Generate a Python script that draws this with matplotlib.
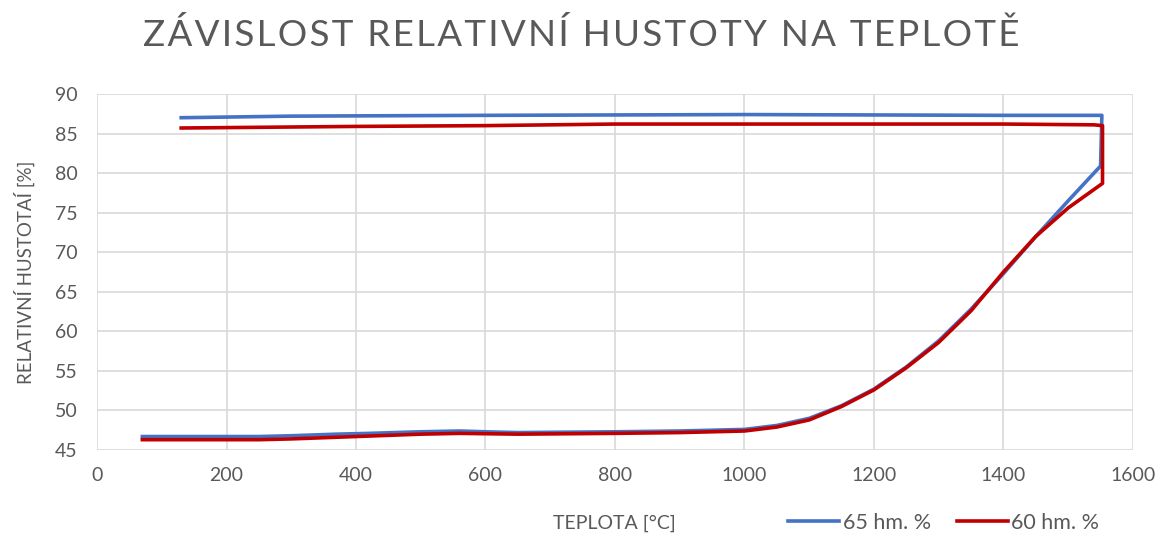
import matplotlib.pyplot as plt

plt.rcParams['font.family'] = ['Lato', 'DejaVu Sans']

# 65 hm. % - heating branch then cooling branch
t65 = [70, 150, 250, 300, 370, 420, 500, 560, 600, 650, 800, 900, 1000, 1050, 1100,
       1150, 1200, 1250, 1300, 1350, 1400, 1450, 1500, 1550, 1552,
       1400, 1000, 600, 300, 130]
r65 = [46.7, 46.7, 46.7, 46.8, 47.0, 47.1, 47.3, 47.4, 47.3, 47.2, 47.3, 47.4, 47.6, 48.1, 49.0,
       50.6, 52.7, 55.5, 58.8, 62.8, 67.3, 72.0, 76.5, 80.9, 87.3,
       87.3, 87.4, 87.3, 87.2, 87.0]

# 60 hm. %
t60 = [70, 150, 250, 300, 400, 500, 560, 650, 800, 900, 1000, 1050, 1100,
       1150, 1200, 1250, 1300, 1350, 1400, 1450, 1500, 1553, 1553,
       1540, 1400, 1200, 800, 600, 400, 130]
r60 = [46.3, 46.3, 46.3, 46.4, 46.7, 47.0, 47.1, 47.0, 47.1, 47.2, 47.4, 47.9, 48.8,
       50.5, 52.6, 55.4, 58.6, 62.6, 67.5, 72.0, 75.6, 78.7, 86.0,
       86.1, 86.2, 86.2, 86.2, 86.0, 85.9, 85.7]

xticks = [0, 200, 400, 600, 800, 1000, 1200, 1400, 1600]
yticks = [45, 50, 55, 60, 65, 70, 75, 80, 85, 90]

fig = plt.figure(figsize=(11.62, 5.38), dpi=100)
ax = fig.add_axes([0.0835, 0.1636, 0.8915, 0.6617])

ax.plot(t65, r65, color='#4472c4', lw=2.6, label='65 hm. %', zorder=3)
ax.plot(t60, r60, color='#c00000', lw=2.6, label='60 hm. %', zorder=4)

ax.set_xlim(0, 1600)
ax.set_ylim(45, 90)
ax.set_xticks(xticks)
ax.set_yticks(yticks)
ax.grid(True, color='#d9d9d9', lw=1.2)
ax.set_axisbelow(True)
for s in ax.spines.values():
    s.set_visible(False)
ax.tick_params(length=0, labelsize=14, labelcolor='#595959')
ax.tick_params(axis='x', pad=12)
ax.tick_params(axis='y', pad=14)

fig.text(0.5, 0.935, '\u200a'.join('ZÁVISLOST RELATIVNÍ HUSTOTY NA TEPLOTĚ'),
         ha='center', va='center', fontsize=26.5, color='#595959')
ax.set_ylabel('RELATIVNÍ HUSTOTAÍ [%]', fontsize=13.5, color='#595959', labelpad=14)
fig.text(0.529, 0.028, 'TEPLOTA [°C]', ha='center', va='center', fontsize=14, color='#595959')

fig.legend(loc='center', bbox_to_anchor=(0.812, 0.028), ncol=2, frameon=False,
           fontsize=15.5, labelcolor='#595959', handlelength=2.4, handletextpad=0.15,
           columnspacing=1.2)

fig.savefig('out.png')
